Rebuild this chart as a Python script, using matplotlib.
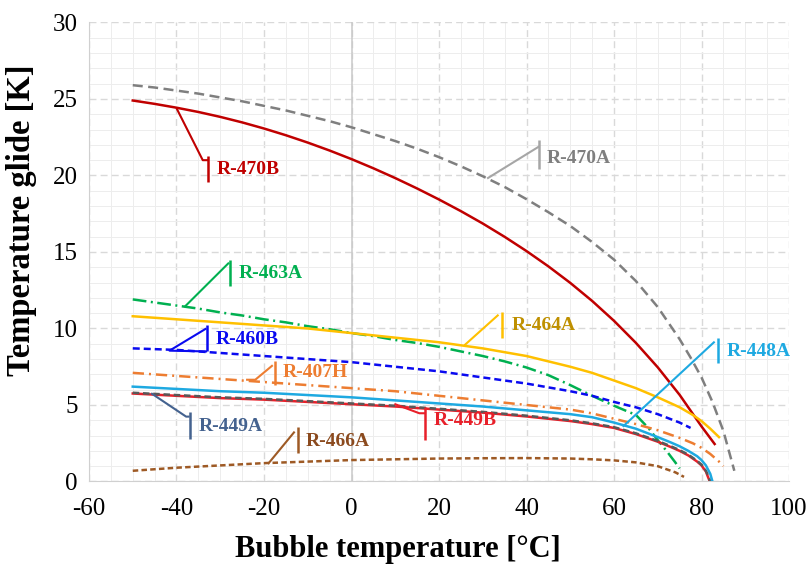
import matplotlib

matplotlib.use("Agg")
import matplotlib.pyplot as plt
from matplotlib.ticker import MultipleLocator

# bubble temperature [C] and temperature glide [K]
T_470A = [-50, -45, -40, -35, -30, -25, -20, -15, -10, -5, 0, 5, 10, 15, 20, 25, 30, 35, 40, 45,
          50, 55, 60, 65, 70, 75, 77.5, 80, 82.5, 85, 87.5]
G_470A = [25.9, 25.75, 25.55, 25.35, 25.1, 24.85, 24.55, 24.25, 23.9, 23.55, 23.15, 22.7, 22.25,
          21.75, 21.2, 20.6, 19.95, 19.25, 18.45, 17.6, 16.7, 15.65, 14.5, 13.1, 11.4, 9.3, 8.1,
          6.8, 5.2, 3.3, 0.7]

T_470B = [-50, -45, -40, -35, -30, -25, -20, -15, -10, -5, 0, 5, 10, 15, 20, 25, 30, 35, 40, 45,
          50, 55, 60, 65, 70, 75, 80, 83]
G_470B = [24.9, 24.68, 24.43, 24.15, 23.83, 23.47, 23.07, 22.63, 22.15, 21.63, 21.07, 20.47,
          19.83, 19.15, 18.43, 17.67, 16.86, 15.99, 15.06, 14.06, 12.98, 11.8, 10.5, 9.06, 7.46,
          5.66, 3.6, 2.45]

T_463A = [-50, -45, -40, -35, -30, -25, -20, -15, -10, -5, 0, 5, 10, 15, 20, 25, 30, 35, 40, 45,
          50, 55, 60, 65, 68, 70, 72, 74, 75]
G_463A = [11.9, 11.7, 11.5, 11.3, 11.05, 10.85, 10.6, 10.4, 10.15, 9.95, 9.7, 9.5, 9.25, 9.05, 8.8,
          8.5, 8.2, 7.85, 7.45, 6.95, 6.3, 5.6, 4.95, 4.35, 3.45, 2.7, 2.0, 1.25, 0.85]

T_464A = [-50, -40, -30, -20, -10, 0, 10, 20, 30, 40, 50, 55, 60, 65, 70, 75, 78, 80, 82, 84]
G_464A = [10.8, 10.6, 10.4, 10.2, 10.0, 9.7, 9.4, 9.1, 8.7, 8.2, 7.5, 7.1, 6.6, 6.1, 5.5, 4.85,
          4.35, 3.95, 3.45, 2.9]

T_460B = [-50, -40, -30, -20, -10, 0, 10, 20, 30, 40, 50, 55, 60, 65, 70, 75, 77.5]
G_460B = [8.7, 8.6, 8.4, 8.2, 8.0, 7.8, 7.5, 7.2, 6.8, 6.4, 5.9, 5.6, 5.2, 4.85, 4.4, 3.85, 3.5]

T_407H = [-50, -40, -30, -20, -10, 0, 10, 20, 30, 40, 50, 55, 60, 65, 70, 75, 78, 80, 82, 84, 85]
G_407H = [7.1, 6.9, 6.7, 6.5, 6.3, 6.1, 5.9, 5.6, 5.3, 5.0, 4.7, 4.45, 4.1, 3.75, 3.35, 2.85, 2.5,
          2.2, 1.8, 1.3, 1.0]

T_448A = [-50, -40, -30, -20, -10, 0, 10, 20, 30, 40, 50, 55, 60, 65, 70, 73, 75, 77, 79, 80, 81,
          82, 82.5]
G_448A = [6.2, 6.05, 5.9, 5.8, 5.65, 5.5, 5.3, 5.1, 4.9, 4.65, 4.4, 4.2, 3.85, 3.45, 2.9, 2.55,
          2.3, 2.0, 1.65, 1.4, 1.05, 0.5, 0.0]

T_449A = [-50, -40, -30, -20, -10, 0, 10, 20, 30, 40, 50, 55, 60, 65, 70, 73, 75, 77, 79, 80, 81,
          81.5, 82]
G_449A = [5.8, 5.65, 5.5, 5.4, 5.25, 5.1, 4.95, 4.75, 4.55, 4.3, 4.0, 3.8, 3.55, 3.15, 2.65, 2.3,
          2.05, 1.75, 1.35, 1.1, 0.7, 0.4, 0.0]

T_449B = [-50, -40, -30, -20, -10, 0, 10, 20, 30, 40, 50, 55, 60, 65, 70, 73, 75, 77, 79, 80, 81,
          81.4, 81.9]
G_449B = [5.75, 5.6, 5.45, 5.35, 5.2, 5.05, 4.9, 4.7, 4.5, 4.25, 3.95, 3.75, 3.5, 3.1, 2.6, 2.25,
          2.0, 1.7, 1.3, 1.05, 0.65, 0.35, 0.0]

T_466A = [-50, -40, -30, -20, -10, 0, 10, 20, 30, 40, 50, 55, 60, 65, 68, 70, 72, 74, 76]
G_466A = [0.7, 0.9, 1.05, 1.2, 1.3, 1.4, 1.45, 1.5, 1.52, 1.53, 1.5, 1.45, 1.38, 1.25, 1.1, 1.0,
          0.8, 0.6, 0.3]

X_TICKS = [-60, -40, -20, 0, 20, 40, 60, 80, 100]
Y_TICKS = [0, 5, 10, 15, 20, 25, 30]

SERIF = ["Liberation Serif", "DejaVu Serif"]


def callout(ax, path, bar_x, bar_y, text_xy, text, line_color, text_color):
    xs, ys = zip(*path)
    ax.plot(xs, ys, color=line_color, lw=1.5, zorder=5, solid_capstyle="butt")
    ax.plot([bar_x, bar_x], bar_y, color=line_color, lw=1.8, zorder=5, solid_capstyle="butt")
    ax.text(text_xy[0], text_xy[1], text, color=text_color, fontsize=14, fontweight="bold",
            family=SERIF, ha="left", va="center", zorder=6)


def main() -> None:
    fig = plt.figure(figsize=(8.12, 5.69), dpi=100)
    ax = fig.add_axes([0.1096, 0.1538, 0.8621, 0.8067])

    ax.set_xlim(-60, 100)
    ax.set_ylim(0, 30)
    ax.xaxis.set_major_locator(MultipleLocator(20))
    ax.xaxis.set_minor_locator(MultipleLocator(5))
    ax.yaxis.set_major_locator(MultipleLocator(5))
    ax.yaxis.set_minor_locator(MultipleLocator(1))
    ax.grid(which="minor", color="#EDEDED", lw=0.7, zorder=0)
    ax.grid(which="major", color="#D9D9D9", lw=1.0, ls=(0, (5, 3)), zorder=0)
    ax.set_axisbelow(True)
    ax.axvline(0, color="#C9C9C9", lw=1.1, zorder=1)
    for side in ["top", "right"]:
        ax.spines[side].set_visible(False)
    for side in ["left", "bottom"]:
        ax.spines[side].set_color("#D0D0D0")
    ax.tick_params(which="both", length=0, labelsize=18)
    ax.tick_params(axis="x", pad=12)
    ax.tick_params(axis="y", pad=8)
    ax.set_xticks(X_TICKS)
    ax.set_yticks(Y_TICKS)
    ax.set_xticklabels([str(v) for v in X_TICKS], family=SERIF)
    ax.set_yticklabels([str(v) for v in Y_TICKS], family=SERIF)

    lw = 1.8
    ax.plot(T_470A, G_470A, color="#7F7F7F", lw=lw, dashes=(4, 2.2), zorder=3)
    ax.plot(T_470B, G_470B, color="#C00000", lw=lw, zorder=3)
    ax.plot(T_463A, G_463A, color="#00B050", lw=lw, dashes=(5.5, 1.8, 0.8, 1.8), zorder=3)
    ax.plot(T_464A, G_464A, color="#FFC000", lw=lw, zorder=3)
    ax.plot(T_460B, G_460B, color="#0A0AF0", lw=lw, dashes=(2.8, 1.6), zorder=3)
    ax.plot(T_407H, G_407H, color="#ED7D31", lw=lw, dashes=(4.5, 2, 0.8, 2), zorder=3)
    ax.plot(T_449B, G_449B, color="#E8202A", lw=lw, zorder=3)
    ax.plot(T_449A, G_449A, color="#595959", lw=lw, dashes=(2.6, 1.5), zorder=3)
    ax.plot(T_448A, G_448A, color="#1EA9E1", lw=lw, zorder=4)
    ax.plot(T_466A, G_466A, color="#9E5A25", lw=lw, dashes=(2.2, 1.3), zorder=3)

    callout(ax, [(-40, 24.4), (-34, 21.0), (-32.8, 21.0)], -32.8, (19.6, 21.3), (-30.9, 20.4),
            "R-470B", "#C00000", "#C00000")
    callout(ax, [(31, 19.8), (42.9, 21.9)], 42.9, (20.4, 22.3), (44.6, 21.1),
            "R-470A", "#A6A6A6", "#7F7F7F")
    callout(ax, [(-38.2, 11.4), (-28.0, 14.3)], -27.7, (12.8, 14.5), (-25.8, 13.6),
            "R-463A", "#00B050", "#00B050")
    callout(ax, [(-33.0, 8.5), (-41.6, 8.55), (-33.2, 10.0)], -33.0, (8.5, 10.2), (-31.0, 9.3),
            "R-460B", "#0A0AF0", "#0A0AF0")
    callout(ax, [(-24.1, 6.65), (-22.0, 6.65), (-18.0, 7.6)], -17.6, (6.3, 7.9), (-15.7, 7.1),
            "R-407H", "#ED7D31", "#ED7D31")
    callout(ax, [(-45.8, 5.77), (-37.8, 4.24), (-37.0, 4.24)], -37.0, (2.76, 4.56), (-35.0, 3.6),
            "R-449A", "#44628F", "#44628F")
    callout(ax, [(-19.1, 1.14), (-13.0, 3.26)], -12.3, (1.84, 3.58), (-10.5, 2.6),
            "R-466A", "#9E5A25", "#8B4A1E")
    callout(ax, [(9.8, 5.07), (15.5, 4.46), (16.8, 4.46)], 16.8, (2.7, 4.9), (18.8, 4.0),
            "R-449B", "#E8202A", "#E8202A")
    callout(ax, [(25.8, 8.9), (33.6, 10.9)], 34.4, (9.4, 11.1), (36.5, 10.2),
            "R-464A", "#FFC000", "#BF9000")
    callout(ax, [(62.0, 3.58), (83.0, 9.14)], 83.7, (7.77, 9.4), (85.8, 8.5),
            "R-448A", "#1EA9E1", "#1EA9E1")

    ax.set_xlabel("Bubble temperature [°C]", fontsize=22, fontweight="bold", family=SERIF)
    ax.set_ylabel("Temperature glide [K]", fontsize=23.5, fontweight="bold", family=SERIF)
    ax.xaxis.set_label_coords(0.441, -0.149)
    ax.xaxis.label.set_va("center")
    ax.yaxis.set_label_coords(-0.096, 0.57)
    ax.yaxis.label.set_va("center")

    fig.savefig("out.png", dpi=100)
    plt.close(fig)


if __name__ == "__main__":
    main()
